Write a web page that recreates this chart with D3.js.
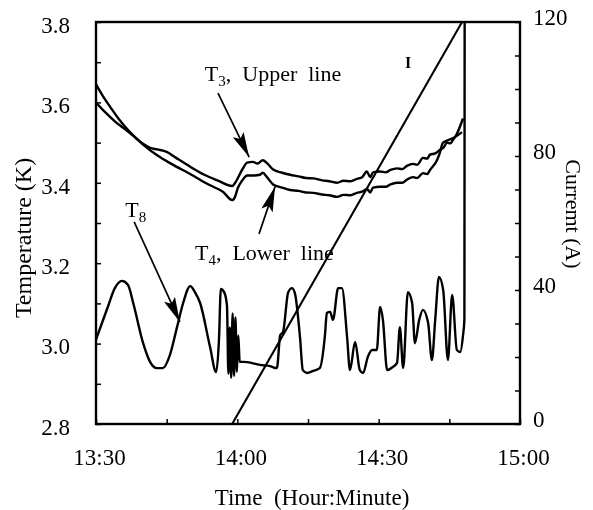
<!DOCTYPE html>
<html><head><meta charset="utf-8">
<script src="https://cdn.jsdelivr.net/npm/d3@7"></script>
<style>
body{margin:0;background:#fff}
svg{display:block;filter:grayscale(100%)}
text{font-family:"Liberation Serif","Times New Roman",serif !important;fill:#000}
</style>
</head><body>
<svg id="c" width="593" height="510"></svg>
<script>
// time is minutes after 13:30
const timeTickValues = [0, 15, 30, 45, 60, 75, 90];
const timeTickLabels = ["13:30", "", "14:00", "", "14:30", "", "15:00"];
const tempTickValues = [2.8, 2.9, 3.0, 3.1, 3.2, 3.3, 3.4, 3.5, 3.6, 3.7, 3.8];
const tempTickLabels = ["2.8", "", "3.0", "", "3.2", "", "3.4", "", "3.6", "", "3.8"];
const currTickValues = [0, 10, 20, 30, 40, 50, 60, 70, 80, 90, 100, 110, 120];
const currTickLabels = ["0", "", "", "", "40", "", "", "", "80", "", "", "", "120"];

const t3Upper = [[0,3.600],[2,3.575],[4,3.553],[6,3.535],[8,3.516],[10,3.497],[11.5,3.487],[13,3.483],[15,3.477],[17,3.462],[20,3.440],[23,3.420],[26,3.405],[28.9,3.392],[29.8,3.405],[31,3.432],[32.1,3.450],[33.3,3.452],[34.3,3.448],[35.4,3.456],[36.3,3.449],[37.6,3.433],[39.5,3.425],[41.2,3.420],[43,3.416],[44.5,3.412],[46.1,3.411],[48,3.406],[49.5,3.404],[51.2,3.400],[52.5,3.405],[54,3.404],[55.4,3.410],[56.5,3.414],[57.5,3.428],[58.2,3.414],[58.8,3.426],[60.3,3.428],[61.5,3.426],[62.5,3.432],[63.9,3.436],[65,3.434],[66,3.442],[67.3,3.447],[68.2,3.445],[69.4,3.462],[70.3,3.460],[70.9,3.470],[72,3.473],[73.0,3.482],[73.8,3.488],[74.5,3.500],[75.2,3.498],[75.8,3.507],[76.6,3.522],[77.9,3.560]];
const t4Lower = [[0,3.645],[1.5,3.615],[3,3.589],[5,3.556],[7.2,3.526],[10,3.495],[12.9,3.469],[16,3.447],[20,3.422],[24,3.395],[27,3.377],[28.9,3.357],[29.5,3.365],[30.1,3.387],[31,3.405],[32.1,3.418],[33.5,3.418],[34.8,3.420],[35.4,3.425],[36.3,3.414],[37.6,3.396],[39.5,3.388],[41.2,3.382],[43,3.380],[44.5,3.376],[46.1,3.375],[48,3.371],[49.5,3.369],[51.2,3.365],[52.5,3.370],[54,3.369],[55.4,3.375],[56.5,3.378],[57.5,3.385],[58.2,3.376],[58.8,3.388],[60.3,3.390],[61.5,3.390],[62.5,3.396],[63.9,3.400],[65,3.400],[66,3.408],[67.3,3.414],[68.2,3.412],[69.4,3.424],[70.3,3.422],[70.9,3.432],[72.4,3.457],[73.0,3.475],[73.6,3.499],[74.5,3.505],[75.8,3.511],[77.7,3.526]];
const t8 = [[0,3.01],[2.5,3.091],[4.0,3.138],[5.5,3.156],[6.8,3.146],[7.9,3.101],[10.0,3.001],[11.5,2.954],[12.9,2.939],[14.2,2.939],[15.7,2.972],[17.2,3.041],[18.5,3.101],[20.0,3.143],[21.0,3.128],[22.1,3.101],[24.2,2.992],[25.5,2.929],[26.1,3.009],[26.5,3.136],[27.2,3.128],[27.8,3.095],[28.1,2.925],[28.4,3.04],[28.7,2.915],[29.0,3.075],[29.3,2.92],[29.6,3.065],[29.9,2.93],[30.2,3.02],[30.5,2.955],[32.1,2.954],[34.8,2.947],[36.9,2.944],[38.4,2.939],[39.1,3.021],[39.7,3.029],[40.8,3.128],[41.6,3.138],[42.2,3.126],[43.3,3.016],[43.9,2.934],[44.8,2.927],[46.1,2.932],[47.5,2.939],[48.6,3.021],[49.0,3.076],[49.7,3.079],[50.3,3.059],[51.4,3.138],[52.2,3.138],[53.3,3.016],[53.9,2.934],[55.0,3.004],[56.0,2.934],[56.7,2.927],[57.7,2.967],[58.6,2.984],[59.6,2.984],[60.3,3.091],[60.9,3.059],[61.8,2.934],[63.0,2.942],[63.9,2.952],[64.5,3.041],[65.2,2.939],[66.2,3.128],[67.1,3.101],[67.7,3.001],[68.6,3.059],[69.4,3.084],[70.5,3.051],[71.3,2.959],[72.0,3.059],[72.8,3.166],[73.7,3.133],[74.7,2.959],[75.6,3.121],[76.6,2.984],[77.3,2.979],[77.9,3.02],[78.2,3.06],[78.25,3.80]];
const currentI = [[28.9,0],[77.7,120]];

const labels = [
  {main:"T", sub:"3", rest:",  Upper  line", t:23.1, v:3.653},
  {main:"T", sub:"4", rest:",  Lower  line", t:21.0, v:3.208},
  {main:"T", sub:"8", rest:"", t:6.2, v:3.315}
];
const arrows = [
  {t0:25.9, v0:3.623, t1:32.5, v1:3.464},
  {t0:34.6, v0:3.273, t1:38.0, v1:3.390},
  {t0:8.1, v0:3.303, t1:17.8, v1:3.054}
];

const FONT = '"Liberation Serif","Times New Roman",serif';
const svg = d3.select("#c");
const L = 96, R = 520, T = 22, B = 424;
const x = d3.scaleLinear().domain([0, 90]).range([L, R]);
const y = d3.scaleLinear().domain([2.8, 3.8]).range([B, T]);
const yI = d3.scaleLinear().domain([0, 120]).range([B, T]);

const defs = svg.append("defs");
defs.append("clipPath").attr("id","clip")
  .append("rect").attr("x",L).attr("y",T-1).attr("width",R-L).attr("height",B-T+1);

const ax = svg.append("g").attr("transform",`translate(0,${B})`)
  .call(d3.axisBottom(x).tickValues(timeTickValues).tickSize(-5).tickPadding(25)
    .tickFormat((d,i)=>timeTickLabels[i]));
ax.selectAll("text").attr("font-size",23).attr("dx",3);
const ay = svg.append("g").attr("transform",`translate(${L},0)`)
  .call(d3.axisLeft(y).tickValues(tempTickValues).tickSize(-5).tickPadding(26)
    .tickFormat((d,i)=>tempTickLabels[i]));
ay.selectAll("text").attr("font-size",23).attr("dy","0.45em");
const ar = svg.append("g").attr("transform",`translate(${R},0)`)
  .call(d3.axisRight(yI).tickValues(currTickValues).tickSize(-5).tickPadding(13)
    .tickFormat((d,i)=>currTickLabels[i]));
ar.selectAll("text").attr("font-size",23).attr("dy","0.1em");
[ax,ay,ar].forEach(g=>{
  g.attr("font-family", FONT);
  g.select(".domain").remove();
  g.selectAll("line").attr("stroke","#000").attr("stroke-width",1.5);
  g.selectAll("text").style("font-family",FONT).attr("fill","#000");
});

svg.append("rect").attr("x",L).attr("y",T).attr("width",R-L).attr("height",B-T)
  .attr("fill","none").attr("stroke","#000").attr("stroke-width",2.4);

const plot = svg.append("g").attr("clip-path","url(#clip)");
const lineT = d3.line().x(d=>x(d[0])).y(d=>y(d[1])).curve(d3.curveMonotoneX);
const lineI = d3.line().x(d=>x(d[0])).y(d=>yI(d[1]));

[t3Upper, t4Lower, t8].forEach(s=>{
  plot.append("path").datum(s).attr("d",lineT).attr("fill","none")
    .attr("stroke","#000").attr("stroke-width",2.4).attr("stroke-linejoin","round");
});
plot.append("path").datum(currentI).attr("d",lineI).attr("fill","none")
  .attr("stroke","#000").attr("stroke-width",2.1);

defs.append("marker").attr("id","ah")
  .attr("markerUnits","userSpaceOnUse").attr("markerWidth",28).attr("markerHeight",14)
  .attr("refX",25).attr("refY",6).attr("orient","auto")
  .append("path").attr("d","M0,0 L25,6 L0,12 L5,6 Z").attr("fill","#000");
arrows.forEach(a=>{
  svg.append("line").attr("x1",x(a.t0)).attr("y1",y(a.v0)).attr("x2",x(a.t1)).attr("y2",y(a.v1))
    .attr("stroke","#000").attr("stroke-width",1.7).attr("marker-end","url(#ah)");
});

labels.forEach(l=>{
  const t = svg.append("text").attr("x",x(l.t)).attr("y",y(l.v)).attr("font-size",22)
    .style("white-space","pre");
  t.append("tspan").text(l.main);
  t.append("tspan").attr("font-size",15).attr("dy",5).text(l.sub);
  if (l.rest) t.append("tspan").attr("dy",-5).text(l.rest);
});
svg.append("text").attr("x",x(65.6)).attr("y",yI(106.3)).attr("font-size",16)
  .attr("font-weight","bold").text("I");

svg.append("text").attr("transform","translate(31,238) rotate(-90)").attr("text-anchor","middle")
  .attr("font-size",24).text("Temperature (K)");
svg.append("text").attr("transform","translate(566,214) rotate(90)").attr("text-anchor","middle")
  .attr("font-size",22).style("white-space","pre").text("Curremt (A)");
svg.append("text").attr("x",312).attr("y",505).attr("text-anchor","middle")
  .attr("font-size",23).style("white-space","pre").text("Time  (Hour:Minute)");
</script>
</body></html>
